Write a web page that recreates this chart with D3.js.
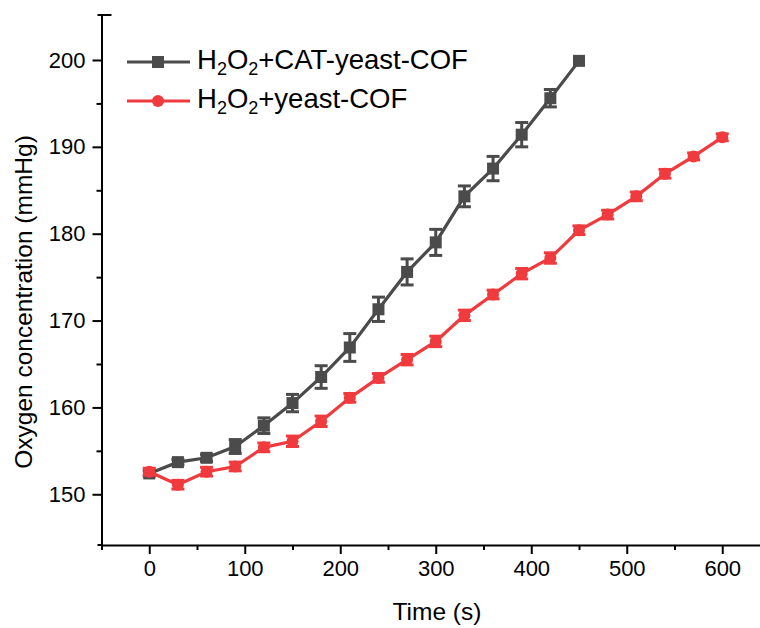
<!DOCTYPE html>
<html>
<head>
<meta charset="utf-8">
<script src="https://cdn.jsdelivr.net/npm/d3@7"></script>
<style>
  html, body { margin: 0; padding: 0; background: #fff; }
  svg { display: block; font-family: "Liberation Sans", Arial, sans-serif; }
</style>
</head>
<body>
<svg id="chart" width="760" height="628"></svg>
<script>
// ---- data ----
const timesCAT = [0, 30, 60, 90, 120, 150, 180, 210, 240, 270, 300, 330, 360, 390, 420, 450];
const valuesCAT = [152.4, 153.7, 154.2, 155.5, 157.9, 160.5, 163.5, 166.9, 171.3, 175.6, 179.0, 184.3, 187.5, 191.4, 195.6, 199.9];
const errorsCAT = [0.3, 0.3, 0.4, 0.8, 0.9, 1.0, 1.3, 1.6, 1.4, 1.5, 1.5, 1.2, 1.4, 1.4, 1.0, 0];

const timesYeast = [0, 30, 60, 90, 120, 150, 180, 210, 240, 270, 300, 330, 360, 390, 420, 450, 480, 510, 540, 570, 600];
const valuesYeast = [152.6, 151.1, 152.6, 153.2, 155.4, 156.1, 158.4, 161.1, 163.4, 165.5, 167.6, 170.6, 173.0, 175.4, 177.2, 180.4, 182.2, 184.3, 186.9, 188.9, 191.1];
const errorsYeast = [0.4, 0.5, 0.5, 0.5, 0.5, 0.6, 0.6, 0.5, 0.5, 0.6, 0.6, 0.6, 0.5, 0.6, 0.6, 0.5, 0.5, 0.5, 0.5, 0.4, 0.4];

const xMajorTicks = [0, 100, 200, 300, 400, 500, 600];
const xMinorTicks = [-50, 50, 150, 250, 350, 450, 550, 650];
const yMajorTicks = [150, 160, 170, 180, 190, 200];
const yMinorTicks = [155, 165, 175, 185, 195];

const seriesNames = ["CAT", "yeast"];

// ---- layout ----
const svg = d3.select("#chart");
const xDomain = [-50, 650], yDomain = [144.16, 205.18];
const x = d3.scaleLinear().domain(xDomain).range([101.5, 770]);
const y = d3.scaleLinear().domain(yDomain).range([545, 15]);

const GRAY = "#4b4b4b", RED = "#ef3b3e";

// ---- axes ----
const axisColor = "#000";
const gx = svg.append("g").attr("transform", `translate(0,${y(yDomain[0])})`);
gx.call(d3.axisBottom(x).tickValues(xMajorTicks).tickSize(9).tickSizeOuter(0).tickPadding(6).tickFormat(d3.format("d")));
gx.append("g").call(d3.axisBottom(x).tickValues(xMinorTicks).tickSize(5).tickSizeOuter(0).tickFormat(""))
  .select(".domain").remove();

const gy = svg.append("g").attr("transform", `translate(${x(xDomain[0])},0)`);
gy.call(d3.axisLeft(y).tickValues(yMajorTicks).tickSize(9).tickSizeOuter(0).tickPadding(7).tickFormat(d3.format("d")));
gy.append("g").call(d3.axisLeft(y).tickValues(yMinorTicks).tickSize(5).tickSizeOuter(0).tickFormat(""))
  .select(".domain").remove();
// end caps of y axis
gy.append("line").attr("x1", -4).attr("x2", 0).attr("y1", y(yDomain[0])).attr("y2", y(yDomain[0]));
gy.append("line").attr("x1", -4).attr("x2", 10).attr("y1", y(yDomain[1])).attr("y2", y(yDomain[1]));

svg.selectAll(".domain, .tick line, g > line").attr("stroke", axisColor).attr("stroke-width", 2);
svg.selectAll(".tick text").attr("font-size", 22).attr("fill", "#000").attr("font-family", "Liberation Sans, Arial, sans-serif");

// axis titles
svg.append("text").attr("x", 437).attr("y", 620).attr("text-anchor", "middle")
  .attr("font-size", 24.5).text("Time (s)");
svg.append("text").attr("transform", `translate(32,302) rotate(-90)`)
  .attr("text-anchor", "middle").attr("font-size", 24.5).text("Oxygen concentration (mmHg)");

// ---- series ----
function drawSeries(times, values, errors, color, shape) {
  const pts = times.map((t, i) => ({ t, v: values[i], e: errors[i] }));
  const g = svg.append("g");
  g.append("path").datum(pts)
    .attr("fill", "none").attr("stroke", color).attr("stroke-width", 3.2)
    .attr("d", d3.line().x(d => x(d.t)).y(d => y(d.v)));
  const eb = g.selectAll(".eb").data(pts.filter(d => d.e > 0)).join("g")
    .attr("stroke", color).attr("stroke-width", 3);
  eb.append("line").attr("x1", d => x(d.t)).attr("x2", d => x(d.t))
    .attr("y1", d => y(d.v - d.e)).attr("y2", d => y(d.v + d.e));
  eb.append("line").attr("x1", d => x(d.t) - 6.5).attr("x2", d => x(d.t) + 6.5)
    .attr("y1", d => y(d.v + d.e)).attr("y2", d => y(d.v + d.e));
  eb.append("line").attr("x1", d => x(d.t) - 6.5).attr("x2", d => x(d.t) + 6.5)
    .attr("y1", d => y(d.v - d.e)).attr("y2", d => y(d.v - d.e));
  if (shape === "square") {
    g.selectAll(".m").data(pts).join("rect")
      .attr("x", d => x(d.t) - 6).attr("y", d => y(d.v) - 6)
      .attr("width", 12).attr("height", 12).attr("fill", color);
  } else {
    g.selectAll(".m").data(pts).join("circle")
      .attr("cx", d => x(d.t)).attr("cy", d => y(d.v)).attr("r", 6).attr("fill", color);
  }
}
drawSeries(timesCAT, valuesCAT, errorsCAT, GRAY, "square");
drawSeries(timesYeast, valuesYeast, errorsYeast, RED, "circle");

// ---- legend ----
const legend = svg.append("g");
const legendItems = [
  { name: seriesNames[0], color: GRAY, shape: "square", y: 62, parts: ["H", "2", "O", "2", "+CAT-yeast-COF"] },
  { name: seriesNames[1], color: RED, shape: "circle", y: 101, parts: ["H", "2", "O", "2", "+yeast-COF"] }
];
legendItems.forEach(it => {
  legend.append("line").attr("x1", 127).attr("x2", 190).attr("y1", it.y).attr("y2", it.y)
    .attr("stroke", it.color).attr("stroke-width", 3.2);
  if (it.shape === "square") {
    legend.append("rect").attr("x", 158 - 6).attr("y", it.y - 6).attr("width", 12).attr("height", 12).attr("fill", it.color);
  } else {
    legend.append("circle").attr("cx", 158).attr("cy", it.y).attr("r", 6).attr("fill", it.color);
  }
  const t = legend.append("text").attr("x", 197).attr("y", it.y + 7).attr("font-size", 27.5).attr("fill", "#000");
  it.parts.forEach((p, i) => {
    const sub = (i === 1 || i === 3);
    const ts = t.append("tspan").text(p);
    if (sub) ts.attr("font-size", 18).attr("dy", 6);
    else if (i > 0) ts.attr("dy", -6);
  });
});
</script>
</body>
</html>
